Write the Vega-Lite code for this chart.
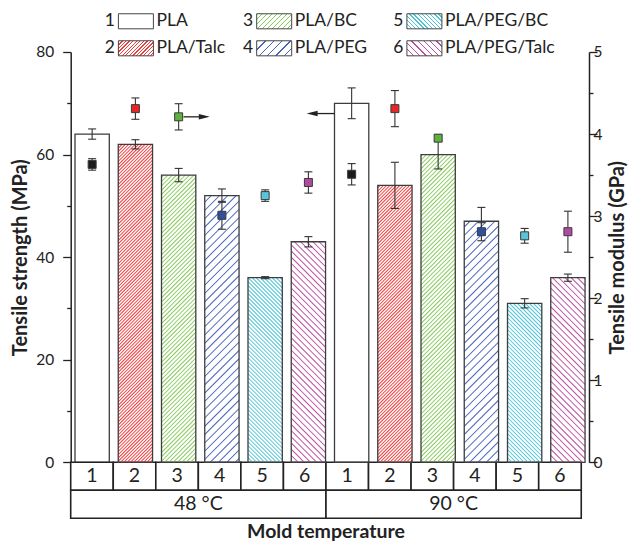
{
"$schema": "https://vega.github.io/schema/vega-lite/v6.json",
"padding": 0,
"bounds": "flush",
"spacing": 8.25,
"datasets": {
"bars": [
{"key":"48-1","mat":"PLA","s":64,"s_lo":63,"s_hi":65,"m":3.63,"m_lo":3.56,"m_hi":3.70},
{"key":"48-2","mat":"PLA/Talc","s":62,"s_lo":61.1,"s_hi":62.9,"m":4.31,"m_lo":4.18,"m_hi":4.44},
{"key":"48-3","mat":"PLA/BC","s":56,"s_lo":54.7,"s_hi":57.3,"m":4.21,"m_lo":4.05,"m_hi":4.37},
{"key":"48-4","mat":"PLA/PEG","s":52,"s_lo":50.7,"s_hi":53.3,"m":3.01,"m_lo":2.84,"m_hi":3.18},
{"key":"48-5","mat":"PLA/PEG/BC","s":36,"s_lo":35.8,"s_hi":36.2,"m":3.25,"m_lo":3.18,"m_hi":3.32},
{"key":"48-6","mat":"PLA/PEG/Talc","s":43,"s_lo":42,"s_hi":44,"m":3.41,"m_lo":3.28,"m_hi":3.54},
{"key":"90-1","mat":"PLA","s":70,"s_lo":67,"s_hi":73,"m":3.51,"m_lo":3.38,"m_hi":3.64},
{"key":"90-2","mat":"PLA/Talc","s":54,"s_lo":49.5,"s_hi":58.5,"m":4.31,"m_lo":4.09,"m_hi":4.53},
{"key":"90-3","mat":"PLA/BC","s":60,"s_lo":57.2,"s_hi":62.8,"m":3.95,"m_lo":3.91,"m_hi":3.99},
{"key":"90-4","mat":"PLA/PEG","s":47,"s_lo":44.3,"s_hi":49.7,"m":2.81,"m_lo":2.70,"m_hi":2.92},
{"key":"90-5","mat":"PLA/PEG/BC","s":31,"s_lo":30.1,"s_hi":31.9,"m":2.76,"m_lo":2.67,"m_hi":2.85},
{"key":"90-6","mat":"PLA/PEG/Talc","s":36,"s_lo":35.3,"s_hi":36.7,"m":2.81,"m_lo":2.56,"m_hi":3.06}
],
"legend": [
{"n":"1","mat":"PLA","col":0,"row":0},
{"n":"2","mat":"PLA/Talc","col":0,"row":1},
{"n":"3","mat":"PLA/BC","col":1,"row":0},
{"n":"4","mat":"PLA/PEG","col":1,"row":1},
{"n":"5","mat":"PLA/PEG/BC","col":2,"row":0},
{"n":"6","mat":"PLA/PEG/Talc","col":2,"row":1}
],
"table": [
{"row":"r1","start":0,"end":1,"label":"1"},
{"row":"r1","start":1,"end":2,"label":"2"},
{"row":"r1","start":2,"end":3,"label":"3"},
{"row":"r1","start":3,"end":4,"label":"4"},
{"row":"r1","start":4,"end":5,"label":"5"},
{"row":"r1","start":5,"end":6,"label":"6"},
{"row":"r1","start":6,"end":7,"label":"1"},
{"row":"r1","start":7,"end":8,"label":"2"},
{"row":"r1","start":8,"end":9,"label":"3"},
{"row":"r1","start":9,"end":10,"label":"4"},
{"row":"r1","start":10,"end":11,"label":"5"},
{"row":"r1","start":11,"end":12,"label":"6"},
{"row":"r2","start":0,"end":6,"label":"48 °C"},
{"row":"r2","start":6,"end":12,"label":"90 °C"}
]
},
"hconcat": [
{
"width": 34.3, "height": 410.3,
"data": {"name": "bars"},
"transform": [{"filter": "datum.key === '48-1'"}],
"layer": [
{"layer": [
{"mark":{"type":"point","size":1,"filled":true,"opacity":0},"encoding":{"x":{"datum":-2.1662,"type":"quantitative","scale":{"domain":[0,1]}},"y":{"datum":89.885,"type":"quantitative","scale":{"domain":[0,80]}}}},
{"mark":{"type":"rect","fill":"#ffffff","opacity":1},"encoding":{"x":{"datum":-0.05,"type":"quantitative"},"x2":{"datum":1.05},"y":{"field":"s","type":"quantitative"},"y2":{"datum":80}}},
{"mark":{"type":"rect","fill":"transparent","stroke":"#3d3d3d","strokeWidth":1.3,"opacity":1},"encoding":{"x":{"datum":0,"type":"quantitative"},"x2":{"datum":1},
 "y":{"field":"s","type":"quantitative","axis":{"title":"Tensile strength (MPa)","orient":"left","offset":4.3,"values":[0,10,20,30,40,50,60,70,80],"labelExpr":"datum.value % 20 === 0 ? datum.label : ''","tickSize":{"condition":{"test":"datum.value % 20 === 0","value":8},"value":4},"tickWidth":1.3,"tickColor":"#222","domainColor":"#222","domainWidth":1.5,"labelFontSize":15.5,"labelColor":"#222","labelPadding":9,"titleFontSize":20,"titleFontWeight":"bold","titleColor":"#222","titlePadding":5,"grid":false}},
 "y2":{"datum":0}}},
{"mark":{"type":"rule","color":"#333","strokeWidth":1.1},"encoding":{"x":{"datum":0.5,"type":"quantitative"},"y":{"field":"s_lo","type":"quantitative"},"y2":{"field":"s_hi"}}},
{"transform":[{"fold":["s_lo","s_hi"],"as":["f","v"]}],"mark":{"type":"tick","orient":"horizontal","size":8,"thickness":1.1,"color":"#333","opacity":1},"encoding":{"x":{"datum":0.5,"type":"quantitative"},"y":{"field":"v","type":"quantitative"}}}
]},
{"layer": [
{"mark":{"type":"rule","color":"#333","strokeWidth":1.1},"encoding":{"x":{"datum":0.5,"type":"quantitative","scale":{"domain":[0,1]}},"y":{"field":"m_lo","type":"quantitative","scale":{"domain":[0,5]},"axis":null},"y2":{"field":"m_hi"}}},
{"transform":[{"fold":["m_lo","m_hi"],"as":["f","v"]}],"mark":{"type":"tick","orient":"horizontal","size":8,"thickness":1.1,"color":"#333","opacity":1},"encoding":{"x":{"datum":0.5,"type":"quantitative"},"y":{"field":"v","type":"quantitative","axis":null}}},
{"mark":{"type":"point","shape":"square","size":64,"filled":true,"fill":"#1a1a1a","stroke":"#3a3a3a","strokeWidth":1,"opacity":1},"encoding":{"x":{"datum":0.5,"type":"quantitative"},"y":{"field":"m","type":"quantitative","axis":null}}}
]},
{
"data": {"name": "table"},
"encoding": {
"y": {"field": "row", "type": "nominal", "scale": {"domain": ["r1","r2","r3"], "range": [410.3,494.3], "paddingInner": 0, "paddingOuter": 0}, "axis": null}
},
"layer": [
{"mark": {"type": "rect", "fill": "#ffffff", "stroke": "#222", "strokeWidth": 1.6, "opacity": 1},
 "encoding": {"x": {"field": "start", "type": "quantitative", "scale": {"domain": [0,12], "range": [-4.3,506.25], "nice": false, "zero": false}}, "x2": {"field": "end"}}},
{"transform": [{"filter": "datum.row === 'r1'"}],
 "mark": {"type": "text", "fontSize": 19.5, "dx": 21.27, "color": "#222"},
 "encoding": {"x": {"field": "start", "type": "quantitative"}, "text": {"field": "label"}}},
{"transform": [{"filter": "datum.row === 'r2'"}],
 "mark": {"type": "text", "fontSize": 19.5, "dx": 127.65, "color": "#222"},
 "encoding": {"x": {"field": "start", "type": "quantitative"}, "text": {"field": "label"}}},
{"transform": [{"filter": "datum.row === 'r2' && datum.start === 0"}],
 "mark": {"type": "text", "text": "Mold temperature", "fontSize": 19.5, "fontWeight": "bold", "color": "#222"},
 "encoding": {"x": {"datum": 6, "type": "quantitative"}, "y": {"datum": "r3", "type": "nominal", "axis": null}}}
]
}
],
"resolve": {"scale": {"x": "independent", "y": "independent"}}
},
{
"width": 34.3, "height": 410.3,
"data": {"name": "bars"},
"transform": [{"filter": "datum.key === '48-2'"}],
"layer": [
{"layer": [
{"mark":{"type":"rule","clip":true,"strokeWidth":620,"stroke":"#f23a3a","strokeDash":[0.95,1.38],"opacity":1},"encoding":{"x":{"datum":0,"type":"quantitative","scale":{"domain":[0,1]}},"x2":{"datum":11.962},"y":{"datum":80,"type":"quantitative","scale":{"domain":[0,80]},"axis":null},"y2":{"datum":0}}},
{"mark":{"type":"rect","fill":"#ffffff","opacity":1},"encoding":{"x":{"datum":-0.05,"type":"quantitative"},"x2":{"datum":1.05},"y":{"field":"s","type":"quantitative","axis":null},"y2":{"datum":80}}},
{"mark":{"type":"rect","fill":"transparent","stroke":"#3d3d3d","strokeWidth":1.3,"opacity":1},"encoding":{"x":{"datum":0,"type":"quantitative"},"x2":{"datum":1},"y":{"field":"s","type":"quantitative","axis":null},"y2":{"datum":0}}},
{"mark":{"type":"rule","color":"#333","strokeWidth":1.1},"encoding":{"x":{"datum":0.5,"type":"quantitative"},"y":{"field":"s_lo","type":"quantitative","axis":null},"y2":{"field":"s_hi"}}},
{"transform":[{"fold":["s_lo","s_hi"],"as":["f","v"]}],"mark":{"type":"tick","orient":"horizontal","size":8,"thickness":1.1,"color":"#333","opacity":1},"encoding":{"x":{"datum":0.5,"type":"quantitative"},"y":{"field":"v","type":"quantitative","axis":null}}}
]},
{"layer": [
{"mark":{"type":"rule","color":"#333","strokeWidth":1.1},"encoding":{"x":{"datum":0.5,"type":"quantitative"},"y":{"field":"m_lo","type":"quantitative","scale":{"domain":[0,5]},"axis":null},"y2":{"field":"m_hi"}}},
{"transform":[{"fold":["m_lo","m_hi"],"as":["f","v"]}],"mark":{"type":"tick","orient":"horizontal","size":8,"thickness":1.1,"color":"#333","opacity":1},"encoding":{"x":{"datum":0.5,"type":"quantitative"},"y":{"field":"v","type":"quantitative","axis":null}}},
{"mark":{"type":"point","shape":"square","size":64,"filled":true,"fill":"#e8262a","stroke":"#3a3a3a","strokeWidth":1,"opacity":1},"encoding":{"x":{"datum":0.5,"type":"quantitative"},"y":{"field":"m","type":"quantitative","axis":null}}}
]}
],
"resolve": {"scale": {"y": "independent"}}
},
{
"width": 34.3, "height": 410.3,
"data": {"name": "bars"},
"transform": [{"filter": "datum.key === '48-3'"}],
"layer": [
{"layer": [
{"mark":{"type":"rule","clip":true,"strokeWidth":620,"stroke":"#86c95b","strokeDash":[0.95,2.09],"opacity":1},"encoding":{"x":{"datum":0,"type":"quantitative","scale":{"domain":[0,1]}},"x2":{"datum":11.962},"y":{"datum":80,"type":"quantitative","scale":{"domain":[0,80]},"axis":null},"y2":{"datum":0}}},
{"mark":{"type":"rect","fill":"#ffffff","opacity":1},"encoding":{"x":{"datum":-0.05,"type":"quantitative"},"x2":{"datum":1.05},"y":{"field":"s","type":"quantitative","axis":null},"y2":{"datum":80}}},
{"mark":{"type":"rect","fill":"transparent","stroke":"#3d3d3d","strokeWidth":1.3,"opacity":1},"encoding":{"x":{"datum":0,"type":"quantitative"},"x2":{"datum":1},"y":{"field":"s","type":"quantitative","axis":null},"y2":{"datum":0}}},
{"mark":{"type":"rule","color":"#333","strokeWidth":1.1},"encoding":{"x":{"datum":0.5,"type":"quantitative"},"y":{"field":"s_lo","type":"quantitative","axis":null},"y2":{"field":"s_hi"}}},
{"transform":[{"fold":["s_lo","s_hi"],"as":["f","v"]}],"mark":{"type":"tick","orient":"horizontal","size":8,"thickness":1.1,"color":"#333","opacity":1},"encoding":{"x":{"datum":0.5,"type":"quantitative"},"y":{"field":"v","type":"quantitative","axis":null}}}
]},
{"layer": [
{"mark":{"type":"rule","color":"#333","strokeWidth":1.1},"encoding":{"x":{"datum":0.5,"type":"quantitative"},"y":{"field":"m_lo","type":"quantitative","scale":{"domain":[0,5]},"axis":null},"y2":{"field":"m_hi"}}},
{"transform":[{"fold":["m_lo","m_hi"],"as":["f","v"]}],"mark":{"type":"tick","orient":"horizontal","size":8,"thickness":1.1,"color":"#333","opacity":1},"encoding":{"x":{"datum":0.5,"type":"quantitative"},"y":{"field":"v","type":"quantitative","axis":null}}},
{"mark":{"type":"point","shape":"square","size":64,"filled":true,"fill":"#5cb33b","stroke":"#3a3a3a","strokeWidth":1,"opacity":1},"encoding":{"x":{"datum":0.5,"type":"quantitative"},"y":{"field":"m","type":"quantitative","axis":null}}}
]}
],
"resolve": {"scale": {"y": "independent"}}
},
{
"width": 34.3, "height": 410.3,
"data": {"name": "bars"},
"transform": [{"filter": "datum.key === '48-4'"}],
"layer": [
{"layer": [
{"mark":{"type":"rule","clip":true,"strokeWidth":620,"stroke":"#4563b8","strokeDash":[0.95,4.92],"opacity":1},"encoding":{"x":{"datum":0,"type":"quantitative","scale":{"domain":[0,1]}},"x2":{"datum":11.962},"y":{"datum":80,"type":"quantitative","scale":{"domain":[0,80]},"axis":null},"y2":{"datum":0}}},
{"mark":{"type":"rect","fill":"#ffffff","opacity":1},"encoding":{"x":{"datum":-0.05,"type":"quantitative"},"x2":{"datum":1.05},"y":{"field":"s","type":"quantitative","axis":null},"y2":{"datum":80}}},
{"mark":{"type":"rect","fill":"transparent","stroke":"#3d3d3d","strokeWidth":1.3,"opacity":1},"encoding":{"x":{"datum":0,"type":"quantitative"},"x2":{"datum":1},"y":{"field":"s","type":"quantitative","axis":null},"y2":{"datum":0}}},
{"mark":{"type":"rule","color":"#333","strokeWidth":1.1},"encoding":{"x":{"datum":0.5,"type":"quantitative"},"y":{"field":"s_lo","type":"quantitative","axis":null},"y2":{"field":"s_hi"}}},
{"transform":[{"fold":["s_lo","s_hi"],"as":["f","v"]}],"mark":{"type":"tick","orient":"horizontal","size":8,"thickness":1.1,"color":"#333","opacity":1},"encoding":{"x":{"datum":0.5,"type":"quantitative"},"y":{"field":"v","type":"quantitative","axis":null}}}
]},
{"layer": [
{"mark":{"type":"rule","color":"#333","strokeWidth":1.1},"encoding":{"x":{"datum":0.5,"type":"quantitative"},"y":{"field":"m_lo","type":"quantitative","scale":{"domain":[0,5]},"axis":null},"y2":{"field":"m_hi"}}},
{"transform":[{"fold":["m_lo","m_hi"],"as":["f","v"]}],"mark":{"type":"tick","orient":"horizontal","size":8,"thickness":1.1,"color":"#333","opacity":1},"encoding":{"x":{"datum":0.5,"type":"quantitative"},"y":{"field":"v","type":"quantitative","axis":null}}},
{"mark":{"type":"point","shape":"square","size":64,"filled":true,"fill":"#2f4f9f","stroke":"#3a3a3a","strokeWidth":1,"opacity":1},"encoding":{"x":{"datum":0.5,"type":"quantitative"},"y":{"field":"m","type":"quantitative","axis":null}}},
{"mark":{"type":"rule","color":"#222","strokeWidth":1.3},"encoding":{"x":{"datum":-0.62,"type":"quantitative"},"x2":{"datum":-0.013},"y":{"datum":4.21,"type":"quantitative","axis":null}}},
{"mark":{"type":"point","shape":"M-1,-0.5L1,0L-1,0.5Z","size":121,"filled":true,"color":"#222","opacity":1},"encoding":{"x":{"datum":-0.013,"type":"quantitative"},"y":{"datum":4.21,"type":"quantitative","axis":null}}}
]}
],
"resolve": {"scale": {"y": "independent"}}
},
{
"width": 34.3, "height": 410.3,
"data": {"name": "bars"},
"transform": [{"filter": "datum.key === '48-5'"}],
"layer": [
{"layer": [
{"mark":{"type":"rule","clip":true,"strokeWidth":620,"stroke":"#4fc3d6","strokeDash":[0.95,1.88],"opacity":1},"encoding":{"x":{"datum":0,"type":"quantitative","scale":{"domain":[0,1]}},"x2":{"datum":11.962},"y":{"datum":0,"type":"quantitative","scale":{"domain":[0,80]},"axis":null},"y2":{"datum":80}}},
{"mark":{"type":"rect","fill":"#ffffff","opacity":1},"encoding":{"x":{"datum":-0.05,"type":"quantitative"},"x2":{"datum":1.05},"y":{"field":"s","type":"quantitative","axis":null},"y2":{"datum":80}}},
{"mark":{"type":"rect","fill":"transparent","stroke":"#3d3d3d","strokeWidth":1.3,"opacity":1},"encoding":{"x":{"datum":0,"type":"quantitative"},"x2":{"datum":1},"y":{"field":"s","type":"quantitative","axis":null},"y2":{"datum":0}}},
{"mark":{"type":"rule","color":"#333","strokeWidth":1.1},"encoding":{"x":{"datum":0.5,"type":"quantitative"},"y":{"field":"s_lo","type":"quantitative","axis":null},"y2":{"field":"s_hi"}}},
{"transform":[{"fold":["s_lo","s_hi"],"as":["f","v"]}],"mark":{"type":"tick","orient":"horizontal","size":8,"thickness":1.1,"color":"#333","opacity":1},"encoding":{"x":{"datum":0.5,"type":"quantitative"},"y":{"field":"v","type":"quantitative","axis":null}}}
]},
{"layer": [
{"mark":{"type":"rule","color":"#333","strokeWidth":1.1},"encoding":{"x":{"datum":0.5,"type":"quantitative"},"y":{"field":"m_lo","type":"quantitative","scale":{"domain":[0,5]},"axis":null},"y2":{"field":"m_hi"}}},
{"transform":[{"fold":["m_lo","m_hi"],"as":["f","v"]}],"mark":{"type":"tick","orient":"horizontal","size":8,"thickness":1.1,"color":"#333","opacity":1},"encoding":{"x":{"datum":0.5,"type":"quantitative"},"y":{"field":"v","type":"quantitative","axis":null}}},
{"mark":{"type":"point","shape":"square","size":64,"filled":true,"fill":"#58c6d9","stroke":"#3a3a3a","strokeWidth":1,"opacity":1},"encoding":{"x":{"datum":0.5,"type":"quantitative"},"y":{"field":"m","type":"quantitative","axis":null}}}
]}
],
"resolve": {"scale": {"y": "independent"}}
},
{
"width": 34.3, "height": 410.3,
"data": {"name": "bars"},
"transform": [{"filter": "datum.key === '48-6'"}],
"layer": [
{"layer": [
{"mark":{"type":"rule","clip":true,"strokeWidth":620,"stroke":"#bb4ea0","strokeDash":[0.95,3.43],"opacity":1},"encoding":{"x":{"datum":0,"type":"quantitative","scale":{"domain":[0,1]}},"x2":{"datum":11.962},"y":{"datum":0,"type":"quantitative","scale":{"domain":[0,80]},"axis":null},"y2":{"datum":80}}},
{"mark":{"type":"rect","fill":"#ffffff","opacity":1},"encoding":{"x":{"datum":-0.05,"type":"quantitative"},"x2":{"datum":1.05},"y":{"field":"s","type":"quantitative","axis":null},"y2":{"datum":80}}},
{"mark":{"type":"rect","fill":"transparent","stroke":"#3d3d3d","strokeWidth":1.3,"opacity":1},"encoding":{"x":{"datum":0,"type":"quantitative"},"x2":{"datum":1},"y":{"field":"s","type":"quantitative","axis":null},"y2":{"datum":0}}},
{"mark":{"type":"rule","color":"#333","strokeWidth":1.1},"encoding":{"x":{"datum":0.5,"type":"quantitative"},"y":{"field":"s_lo","type":"quantitative","axis":null},"y2":{"field":"s_hi"}}},
{"transform":[{"fold":["s_lo","s_hi"],"as":["f","v"]}],"mark":{"type":"tick","orient":"horizontal","size":8,"thickness":1.1,"color":"#333","opacity":1},"encoding":{"x":{"datum":0.5,"type":"quantitative"},"y":{"field":"v","type":"quantitative","axis":null}}}
]},
{"layer": [
{"mark":{"type":"rule","color":"#333","strokeWidth":1.1},"encoding":{"x":{"datum":0.5,"type":"quantitative"},"y":{"field":"m_lo","type":"quantitative","scale":{"domain":[0,5]},"axis":null},"y2":{"field":"m_hi"}}},
{"transform":[{"fold":["m_lo","m_hi"],"as":["f","v"]}],"mark":{"type":"tick","orient":"horizontal","size":8,"thickness":1.1,"color":"#333","opacity":1},"encoding":{"x":{"datum":0.5,"type":"quantitative"},"y":{"field":"v","type":"quantitative","axis":null}}},
{"mark":{"type":"point","shape":"square","size":64,"filled":true,"fill":"#b04c9f","stroke":"#3a3a3a","strokeWidth":1,"opacity":1},"encoding":{"x":{"datum":0.5,"type":"quantitative"},"y":{"field":"m","type":"quantitative","axis":null}}}
]}
],
"resolve": {"scale": {"y": "independent"}}
},
{
"width": 34.3, "height": 410.3,
"data": {"name": "bars"},
"transform": [{"filter": "datum.key === '90-1'"}],
"layer": [
{"layer": [
{"mark":{"type":"rect","fill":"#ffffff","opacity":1},"encoding":{"x":{"datum":-0.05,"type":"quantitative","scale":{"domain":[0,1]}},"x2":{"datum":1.05},"y":{"field":"s","type":"quantitative","scale":{"domain":[0,80]},"axis":null},"y2":{"datum":80}}},
{"mark":{"type":"rect","fill":"transparent","stroke":"#3d3d3d","strokeWidth":1.3,"opacity":1},"encoding":{"x":{"datum":0,"type":"quantitative"},"x2":{"datum":1},"y":{"field":"s","type":"quantitative","axis":null},"y2":{"datum":0}}},
{"mark":{"type":"rule","color":"#333","strokeWidth":1.1},"encoding":{"x":{"datum":0.5,"type":"quantitative"},"y":{"field":"s_lo","type":"quantitative","axis":null},"y2":{"field":"s_hi"}}},
{"transform":[{"fold":["s_lo","s_hi"],"as":["f","v"]}],"mark":{"type":"tick","orient":"horizontal","size":8,"thickness":1.1,"color":"#333","opacity":1},"encoding":{"x":{"datum":0.5,"type":"quantitative"},"y":{"field":"v","type":"quantitative","axis":null}}},
{"mark":{"type":"rule","color":"#222","strokeWidth":1.3},"encoding":{"x":{"datum":0,"type":"quantitative"},"x2":{"datum":-0.653},"y":{"datum":68,"type":"quantitative","axis":null}}},
{"mark":{"type":"point","shape":"M1,-0.5L-1,0L1,0.5Z","size":121,"filled":true,"color":"#222","opacity":1},"encoding":{"x":{"datum":-0.653,"type":"quantitative"},"y":{"datum":68,"type":"quantitative","axis":null}}}
]},
{"layer": [
{"mark":{"type":"rule","color":"#333","strokeWidth":1.1},"encoding":{"x":{"datum":0.5,"type":"quantitative"},"y":{"field":"m_lo","type":"quantitative","scale":{"domain":[0,5]},"axis":null},"y2":{"field":"m_hi"}}},
{"transform":[{"fold":["m_lo","m_hi"],"as":["f","v"]}],"mark":{"type":"tick","orient":"horizontal","size":8,"thickness":1.1,"color":"#333","opacity":1},"encoding":{"x":{"datum":0.5,"type":"quantitative"},"y":{"field":"v","type":"quantitative","axis":null}}},
{"mark":{"type":"point","shape":"square","size":64,"filled":true,"fill":"#1a1a1a","stroke":"#3a3a3a","strokeWidth":1,"opacity":1},"encoding":{"x":{"datum":0.5,"type":"quantitative"},"y":{"field":"m","type":"quantitative","axis":null}}}
]}
],
"resolve": {"scale": {"y": "independent"}}
},
{
"width": 34.3, "height": 410.3,
"data": {"name": "bars"},
"transform": [{"filter": "datum.key === '90-2'"}],
"layer": [
{"layer": [
{"mark":{"type":"rule","clip":true,"strokeWidth":620,"stroke":"#f23a3a","strokeDash":[0.95,1.38],"opacity":1},"encoding":{"x":{"datum":0,"type":"quantitative","scale":{"domain":[0,1]}},"x2":{"datum":11.962},"y":{"datum":80,"type":"quantitative","scale":{"domain":[0,80]},"axis":null},"y2":{"datum":0}}},
{"mark":{"type":"rect","fill":"#ffffff","opacity":1},"encoding":{"x":{"datum":-0.05,"type":"quantitative"},"x2":{"datum":1.05},"y":{"field":"s","type":"quantitative","axis":null},"y2":{"datum":80}}},
{"mark":{"type":"rect","fill":"transparent","stroke":"#3d3d3d","strokeWidth":1.3,"opacity":1},"encoding":{"x":{"datum":0,"type":"quantitative"},"x2":{"datum":1},"y":{"field":"s","type":"quantitative","axis":null},"y2":{"datum":0}}},
{"mark":{"type":"rule","color":"#333","strokeWidth":1.1},"encoding":{"x":{"datum":0.5,"type":"quantitative"},"y":{"field":"s_lo","type":"quantitative","axis":null},"y2":{"field":"s_hi"}}},
{"transform":[{"fold":["s_lo","s_hi"],"as":["f","v"]}],"mark":{"type":"tick","orient":"horizontal","size":8,"thickness":1.1,"color":"#333","opacity":1},"encoding":{"x":{"datum":0.5,"type":"quantitative"},"y":{"field":"v","type":"quantitative","axis":null}}}
]},
{"layer": [
{"mark":{"type":"rule","color":"#333","strokeWidth":1.1},"encoding":{"x":{"datum":0.5,"type":"quantitative"},"y":{"field":"m_lo","type":"quantitative","scale":{"domain":[0,5]},"axis":null},"y2":{"field":"m_hi"}}},
{"transform":[{"fold":["m_lo","m_hi"],"as":["f","v"]}],"mark":{"type":"tick","orient":"horizontal","size":8,"thickness":1.1,"color":"#333","opacity":1},"encoding":{"x":{"datum":0.5,"type":"quantitative"},"y":{"field":"v","type":"quantitative","axis":null}}},
{"mark":{"type":"point","shape":"square","size":64,"filled":true,"fill":"#e8262a","stroke":"#3a3a3a","strokeWidth":1,"opacity":1},"encoding":{"x":{"datum":0.5,"type":"quantitative"},"y":{"field":"m","type":"quantitative","axis":null}}}
]}
],
"resolve": {"scale": {"y": "independent"}}
},
{
"width": 34.3, "height": 410.3,
"data": {"name": "bars"},
"transform": [{"filter": "datum.key === '90-3'"}],
"layer": [
{"layer": [
{"mark":{"type":"rule","clip":true,"strokeWidth":620,"stroke":"#86c95b","strokeDash":[0.95,2.09],"opacity":1},"encoding":{"x":{"datum":0,"type":"quantitative","scale":{"domain":[0,1]}},"x2":{"datum":11.962},"y":{"datum":80,"type":"quantitative","scale":{"domain":[0,80]},"axis":null},"y2":{"datum":0}}},
{"mark":{"type":"rect","fill":"#ffffff","opacity":1},"encoding":{"x":{"datum":-0.05,"type":"quantitative"},"x2":{"datum":1.05},"y":{"field":"s","type":"quantitative","axis":null},"y2":{"datum":80}}},
{"mark":{"type":"rect","fill":"transparent","stroke":"#3d3d3d","strokeWidth":1.3,"opacity":1},"encoding":{"x":{"datum":0,"type":"quantitative"},"x2":{"datum":1},"y":{"field":"s","type":"quantitative","axis":null},"y2":{"datum":0}}},
{"mark":{"type":"rule","color":"#333","strokeWidth":1.1},"encoding":{"x":{"datum":0.5,"type":"quantitative"},"y":{"field":"s_lo","type":"quantitative","axis":null},"y2":{"field":"s_hi"}}},
{"transform":[{"fold":["s_lo","s_hi"],"as":["f","v"]}],"mark":{"type":"tick","orient":"horizontal","size":8,"thickness":1.1,"color":"#333","opacity":1},"encoding":{"x":{"datum":0.5,"type":"quantitative"},"y":{"field":"v","type":"quantitative","axis":null}}}
]},
{"layer": [
{"mark":{"type":"rule","color":"#333","strokeWidth":1.1},"encoding":{"x":{"datum":0.5,"type":"quantitative"},"y":{"field":"m_lo","type":"quantitative","scale":{"domain":[0,5]},"axis":null},"y2":{"field":"m_hi"}}},
{"transform":[{"fold":["m_lo","m_hi"],"as":["f","v"]}],"mark":{"type":"tick","orient":"horizontal","size":8,"thickness":1.1,"color":"#333","opacity":1},"encoding":{"x":{"datum":0.5,"type":"quantitative"},"y":{"field":"v","type":"quantitative","axis":null}}},
{"mark":{"type":"point","shape":"square","size":64,"filled":true,"fill":"#5cb33b","stroke":"#3a3a3a","strokeWidth":1,"opacity":1},"encoding":{"x":{"datum":0.5,"type":"quantitative"},"y":{"field":"m","type":"quantitative","axis":null}}}
]}
],
"resolve": {"scale": {"y": "independent"}}
},
{
"width": 34.3, "height": 410.3,
"data": {"name": "bars"},
"transform": [{"filter": "datum.key === '90-4'"}],
"layer": [
{"layer": [
{"mark":{"type":"rule","clip":true,"strokeWidth":620,"stroke":"#4563b8","strokeDash":[0.95,4.92],"opacity":1},"encoding":{"x":{"datum":0,"type":"quantitative","scale":{"domain":[0,1]}},"x2":{"datum":11.962},"y":{"datum":80,"type":"quantitative","scale":{"domain":[0,80]},"axis":null},"y2":{"datum":0}}},
{"mark":{"type":"rect","fill":"#ffffff","opacity":1},"encoding":{"x":{"datum":-0.05,"type":"quantitative"},"x2":{"datum":1.05},"y":{"field":"s","type":"quantitative","axis":null},"y2":{"datum":80}}},
{"mark":{"type":"rect","fill":"transparent","stroke":"#3d3d3d","strokeWidth":1.3,"opacity":1},"encoding":{"x":{"datum":0,"type":"quantitative"},"x2":{"datum":1},"y":{"field":"s","type":"quantitative","axis":null},"y2":{"datum":0}}},
{"mark":{"type":"rule","color":"#333","strokeWidth":1.1},"encoding":{"x":{"datum":0.5,"type":"quantitative"},"y":{"field":"s_lo","type":"quantitative","axis":null},"y2":{"field":"s_hi"}}},
{"transform":[{"fold":["s_lo","s_hi"],"as":["f","v"]}],"mark":{"type":"tick","orient":"horizontal","size":8,"thickness":1.1,"color":"#333","opacity":1},"encoding":{"x":{"datum":0.5,"type":"quantitative"},"y":{"field":"v","type":"quantitative","axis":null}}}
]},
{"layer": [
{"mark":{"type":"rule","color":"#333","strokeWidth":1.1},"encoding":{"x":{"datum":0.5,"type":"quantitative"},"y":{"field":"m_lo","type":"quantitative","scale":{"domain":[0,5]},"axis":null},"y2":{"field":"m_hi"}}},
{"transform":[{"fold":["m_lo","m_hi"],"as":["f","v"]}],"mark":{"type":"tick","orient":"horizontal","size":8,"thickness":1.1,"color":"#333","opacity":1},"encoding":{"x":{"datum":0.5,"type":"quantitative"},"y":{"field":"v","type":"quantitative","axis":null}}},
{"mark":{"type":"point","shape":"square","size":64,"filled":true,"fill":"#2f4f9f","stroke":"#3a3a3a","strokeWidth":1,"opacity":1},"encoding":{"x":{"datum":0.5,"type":"quantitative"},"y":{"field":"m","type":"quantitative","axis":null}}}
]}
],
"resolve": {"scale": {"y": "independent"}}
},
{
"width": 34.3, "height": 410.3,
"data": {"name": "bars"},
"transform": [{"filter": "datum.key === '90-5'"}],
"layer": [
{"layer": [
{"mark":{"type":"rule","clip":true,"strokeWidth":620,"stroke":"#4fc3d6","strokeDash":[0.95,1.88],"opacity":1},"encoding":{"x":{"datum":0,"type":"quantitative","scale":{"domain":[0,1]}},"x2":{"datum":11.962},"y":{"datum":0,"type":"quantitative","scale":{"domain":[0,80]},"axis":null},"y2":{"datum":80}}},
{"mark":{"type":"rect","fill":"#ffffff","opacity":1},"encoding":{"x":{"datum":-0.05,"type":"quantitative"},"x2":{"datum":1.05},"y":{"field":"s","type":"quantitative","axis":null},"y2":{"datum":80}}},
{"mark":{"type":"rect","fill":"transparent","stroke":"#3d3d3d","strokeWidth":1.3,"opacity":1},"encoding":{"x":{"datum":0,"type":"quantitative"},"x2":{"datum":1},"y":{"field":"s","type":"quantitative","axis":null},"y2":{"datum":0}}},
{"mark":{"type":"rule","color":"#333","strokeWidth":1.1},"encoding":{"x":{"datum":0.5,"type":"quantitative"},"y":{"field":"s_lo","type":"quantitative","axis":null},"y2":{"field":"s_hi"}}},
{"transform":[{"fold":["s_lo","s_hi"],"as":["f","v"]}],"mark":{"type":"tick","orient":"horizontal","size":8,"thickness":1.1,"color":"#333","opacity":1},"encoding":{"x":{"datum":0.5,"type":"quantitative"},"y":{"field":"v","type":"quantitative","axis":null}}}
]},
{"layer": [
{"mark":{"type":"rule","color":"#333","strokeWidth":1.1},"encoding":{"x":{"datum":0.5,"type":"quantitative"},"y":{"field":"m_lo","type":"quantitative","scale":{"domain":[0,5]},"axis":null},"y2":{"field":"m_hi"}}},
{"transform":[{"fold":["m_lo","m_hi"],"as":["f","v"]}],"mark":{"type":"tick","orient":"horizontal","size":8,"thickness":1.1,"color":"#333","opacity":1},"encoding":{"x":{"datum":0.5,"type":"quantitative"},"y":{"field":"v","type":"quantitative","axis":null}}},
{"mark":{"type":"point","shape":"square","size":64,"filled":true,"fill":"#58c6d9","stroke":"#3a3a3a","strokeWidth":1,"opacity":1},"encoding":{"x":{"datum":0.5,"type":"quantitative"},"y":{"field":"m","type":"quantitative","axis":null}}}
]}
],
"resolve": {"scale": {"y": "independent"}}
},
{
"width": 34.3, "height": 410.3,
"data": {"name": "bars"},
"transform": [{"filter": "datum.key === '90-6'"}],
"layer": [
{"layer": [
{"mark":{"type":"rule","clip":true,"strokeWidth":620,"stroke":"#bb4ea0","strokeDash":[0.95,3.43],"opacity":1},"encoding":{"x":{"datum":0,"type":"quantitative","scale":{"domain":[0,1]}},"x2":{"datum":11.962},"y":{"datum":0,"type":"quantitative","scale":{"domain":[0,80]},"axis":null},"y2":{"datum":80}}},
{"mark":{"type":"rect","fill":"#ffffff","opacity":1},"encoding":{"x":{"datum":-0.05,"type":"quantitative"},"x2":{"datum":1.05},"y":{"field":"s","type":"quantitative","axis":null},"y2":{"datum":80}}},
{"mark":{"type":"rect","fill":"transparent","stroke":"#3d3d3d","strokeWidth":1.3,"opacity":1},"encoding":{"x":{"datum":0,"type":"quantitative"},"x2":{"datum":1},"y":{"field":"s","type":"quantitative","axis":null},"y2":{"datum":0}}},
{"mark":{"type":"rule","color":"#333","strokeWidth":1.1},"encoding":{"x":{"datum":0.5,"type":"quantitative"},"y":{"field":"s_lo","type":"quantitative","axis":null},"y2":{"field":"s_hi"}}},
{"transform":[{"fold":["s_lo","s_hi"],"as":["f","v"]}],"mark":{"type":"tick","orient":"horizontal","size":8,"thickness":1.1,"color":"#333","opacity":1},"encoding":{"x":{"datum":0.5,"type":"quantitative"},"y":{"field":"v","type":"quantitative","axis":null}}}
]},
{"layer": [
{"mark":{"type":"rule","color":"#333","strokeWidth":1.1},"encoding":{"x":{"datum":0.5,"type":"quantitative","scale":{"domain":[0,1]}},"y":{"field":"m_lo","type":"quantitative","scale":{"domain":[0,5]}},"y2":{"field":"m_hi"}}},
{"transform":[{"fold":["m_lo","m_hi"],"as":["f","v"]}],"mark":{"type":"tick","orient":"horizontal","size":8,"thickness":1.1,"color":"#333","opacity":1},"encoding":{"x":{"datum":0.5,"type":"quantitative"},"y":{"field":"v","type":"quantitative"}}},
{"mark":{"type":"point","shape":"square","size":64,"filled":true,"fill":"#b04c9f","stroke":"#3a3a3a","strokeWidth":1,"opacity":1},"encoding":{"x":{"datum":0.5,"type":"quantitative"},
 "y":{"field":"m","type":"quantitative","axis":{"title":"Tensile modulus (GPa)","orient":"right","offset":3.95,"values":[0,0.5,1,1.5,2,2.5,3,3.5,4,4.5,5],"labelExpr":"datum.value % 1 === 0 ? '' + datum.value : ''","tickSize":{"condition":{"test":"datum.value % 1 === 0","value":8},"value":4},"tickWidth":1.3,"tickColor":"#222","domainColor":"#222","domainWidth":1.5,"labelFontSize":15.5,"labelColor":"#222","labelPadding":-4,"titleFontSize":20,"titleFontWeight":"bold","titleColor":"#222","titleAngle":270,"titleBaseline":"top","titlePadding":6,"grid":false}}}}
]},
{
"data": {"name": "legend"},
"encoding": {
"x": {"field": "col", "type": "quantitative", "scale": {"domain": [0,1,2], "range": [-414.85,-276.55,-126.35], "nice": false, "zero": false}},
"y": {"field": "row", "type": "quantitative", "scale": {"domain": [0,1], "range": [-30.7,-3.7], "nice": false, "zero": false}, "axis": null}
},
"layer": [
{"mark": {"type": "text", "fontSize": 17.5, "dx": -26, "color": "#222"}, "encoding": {"text": {"field": "n"}}},
{"mark": {"type": "text", "fontSize": 17.5, "dx": 20.5, "align": "left", "color": "#222"}, "encoding": {"text": {"field": "mat"}}},
{"transform": [{"filter": "datum.mat === 'PLA'"}],
 "mark": {"type": "point", "shape": "M-1,-0.43H1V0.43H-1Z", "size": 1225, "filled": true, "fill": "#ffffff", "stroke": "#444", "strokeWidth": 1, "opacity": 1}},
{"transform": [{"filter": "datum.mat === 'PLA/Talc'"}],
 "mark": {"type": "point", "shape": "M-1,-0.43H1V0.43H-1Z", "size": 1225, "filled": true, "stroke": "#444", "strokeWidth": 1, "opacity": 1,
 "fill": {"gradient": "linear", "x1": 0, "y1": 0, "x2": 1.2069, "y2": 0.5172, "stops": [
{"offset":0,"color":"#f23a3a"},{"offset":0.026,"color":"#f23a3a"},{"offset":0.026,"color":"#fff"},{"offset":0.0714,"color":"#fff"},
{"offset":0.0714,"color":"#f23a3a"},{"offset":0.0974,"color":"#f23a3a"},{"offset":0.0974,"color":"#fff"},{"offset":0.1429,"color":"#fff"},
{"offset":0.1429,"color":"#f23a3a"},{"offset":0.1689,"color":"#f23a3a"},{"offset":0.1689,"color":"#fff"},{"offset":0.2143,"color":"#fff"},
{"offset":0.2143,"color":"#f23a3a"},{"offset":0.2403,"color":"#f23a3a"},{"offset":0.2403,"color":"#fff"},{"offset":0.2857,"color":"#fff"},
{"offset":0.2857,"color":"#f23a3a"},{"offset":0.3117,"color":"#f23a3a"},{"offset":0.3117,"color":"#fff"},{"offset":0.3571,"color":"#fff"},
{"offset":0.3571,"color":"#f23a3a"},{"offset":0.3831,"color":"#f23a3a"},{"offset":0.3831,"color":"#fff"},{"offset":0.4286,"color":"#fff"},
{"offset":0.4286,"color":"#f23a3a"},{"offset":0.4546,"color":"#f23a3a"},{"offset":0.4546,"color":"#fff"},{"offset":0.5,"color":"#fff"},
{"offset":0.5,"color":"#f23a3a"},{"offset":0.526,"color":"#f23a3a"},{"offset":0.526,"color":"#fff"},{"offset":0.5714,"color":"#fff"},
{"offset":0.5714,"color":"#f23a3a"},{"offset":0.5974,"color":"#f23a3a"},{"offset":0.5974,"color":"#fff"},{"offset":0.6429,"color":"#fff"},
{"offset":0.6429,"color":"#f23a3a"},{"offset":0.6689,"color":"#f23a3a"},{"offset":0.6689,"color":"#fff"},{"offset":0.7143,"color":"#fff"},
{"offset":0.7143,"color":"#f23a3a"},{"offset":0.7403,"color":"#f23a3a"},{"offset":0.7403,"color":"#fff"},{"offset":0.7857,"color":"#fff"},
{"offset":0.7857,"color":"#f23a3a"},{"offset":0.8117,"color":"#f23a3a"},{"offset":0.8117,"color":"#fff"},{"offset":0.8571,"color":"#fff"},
{"offset":0.8571,"color":"#f23a3a"},{"offset":0.8831,"color":"#f23a3a"},{"offset":0.8831,"color":"#fff"},{"offset":0.9286,"color":"#fff"},
{"offset":0.9286,"color":"#f23a3a"},{"offset":0.9546,"color":"#f23a3a"},{"offset":0.9546,"color":"#fff"},{"offset":1,"color":"#fff"}
 ]}}},
{"transform": [{"filter": "datum.mat === 'PLA/BC'"}],
 "mark": {"type": "point", "shape": "M-1,-0.43H1V0.43H-1Z", "size": 1225, "filled": true, "stroke": "#444", "strokeWidth": 1, "opacity": 1,
 "fill": {"gradient": "linear", "x1": 0, "y1": 0, "x2": 1.2069, "y2": 0.5172, "stops": [
{"offset":0,"color":"#86c95b"},{"offset":0.026,"color":"#86c95b"},{"offset":0.026,"color":"#fff"},{"offset":0.1,"color":"#fff"},
{"offset":0.1,"color":"#86c95b"},{"offset":0.126,"color":"#86c95b"},{"offset":0.126,"color":"#fff"},{"offset":0.2,"color":"#fff"},
{"offset":0.2,"color":"#86c95b"},{"offset":0.226,"color":"#86c95b"},{"offset":0.226,"color":"#fff"},{"offset":0.3,"color":"#fff"},
{"offset":0.3,"color":"#86c95b"},{"offset":0.326,"color":"#86c95b"},{"offset":0.326,"color":"#fff"},{"offset":0.4,"color":"#fff"},
{"offset":0.4,"color":"#86c95b"},{"offset":0.426,"color":"#86c95b"},{"offset":0.426,"color":"#fff"},{"offset":0.5,"color":"#fff"},
{"offset":0.5,"color":"#86c95b"},{"offset":0.526,"color":"#86c95b"},{"offset":0.526,"color":"#fff"},{"offset":0.6,"color":"#fff"},
{"offset":0.6,"color":"#86c95b"},{"offset":0.626,"color":"#86c95b"},{"offset":0.626,"color":"#fff"},{"offset":0.7,"color":"#fff"},
{"offset":0.7,"color":"#86c95b"},{"offset":0.726,"color":"#86c95b"},{"offset":0.726,"color":"#fff"},{"offset":0.8,"color":"#fff"},
{"offset":0.8,"color":"#86c95b"},{"offset":0.826,"color":"#86c95b"},{"offset":0.826,"color":"#fff"},{"offset":0.9,"color":"#fff"},
{"offset":0.9,"color":"#86c95b"},{"offset":0.926,"color":"#86c95b"},{"offset":0.926,"color":"#fff"},{"offset":1,"color":"#fff"}
 ]}}},
{"transform": [{"filter": "datum.mat === 'PLA/PEG'"}],
 "mark": {"type": "point", "shape": "M-1,-0.43H1V0.43H-1Z", "size": 1225, "filled": true, "stroke": "#444", "strokeWidth": 1, "opacity": 1,
 "fill": {"gradient": "linear", "x1": 0, "y1": 0, "x2": 1.2069, "y2": 0.5172, "stops": [
{"offset":0,"color":"#4563b8"},{"offset":0.026,"color":"#4563b8"},{"offset":0.026,"color":"#fff"},{"offset":0.1667,"color":"#fff"},
{"offset":0.1667,"color":"#4563b8"},{"offset":0.1927,"color":"#4563b8"},{"offset":0.1927,"color":"#fff"},{"offset":0.3333,"color":"#fff"},
{"offset":0.3333,"color":"#4563b8"},{"offset":0.3593,"color":"#4563b8"},{"offset":0.3593,"color":"#fff"},{"offset":0.5,"color":"#fff"},
{"offset":0.5,"color":"#4563b8"},{"offset":0.526,"color":"#4563b8"},{"offset":0.526,"color":"#fff"},{"offset":0.6667,"color":"#fff"},
{"offset":0.6667,"color":"#4563b8"},{"offset":0.6927,"color":"#4563b8"},{"offset":0.6927,"color":"#fff"},{"offset":0.8333,"color":"#fff"},
{"offset":0.8333,"color":"#4563b8"},{"offset":0.8593,"color":"#4563b8"},{"offset":0.8593,"color":"#fff"},{"offset":1,"color":"#fff"}
 ]}}},
{"transform": [{"filter": "datum.mat === 'PLA/PEG/BC'"}],
 "mark": {"type": "point", "shape": "M-1,-0.43H1V0.43H-1Z", "size": 1225, "filled": true, "stroke": "#444", "strokeWidth": 1, "opacity": 1,
 "fill": {"gradient": "linear", "x1": 0, "y1": 1, "x2": 1.2069, "y2": 0.4828, "stops": [
{"offset":0,"color":"#4fc3d6"},{"offset":0.026,"color":"#4fc3d6"},{"offset":0.026,"color":"#fff"},{"offset":0.0833,"color":"#fff"},
{"offset":0.0833,"color":"#4fc3d6"},{"offset":0.1093,"color":"#4fc3d6"},{"offset":0.1093,"color":"#fff"},{"offset":0.1667,"color":"#fff"},
{"offset":0.1667,"color":"#4fc3d6"},{"offset":0.1927,"color":"#4fc3d6"},{"offset":0.1927,"color":"#fff"},{"offset":0.25,"color":"#fff"},
{"offset":0.25,"color":"#4fc3d6"},{"offset":0.276,"color":"#4fc3d6"},{"offset":0.276,"color":"#fff"},{"offset":0.3333,"color":"#fff"},
{"offset":0.3333,"color":"#4fc3d6"},{"offset":0.3593,"color":"#4fc3d6"},{"offset":0.3593,"color":"#fff"},{"offset":0.4167,"color":"#fff"},
{"offset":0.4167,"color":"#4fc3d6"},{"offset":0.4427,"color":"#4fc3d6"},{"offset":0.4427,"color":"#fff"},{"offset":0.5,"color":"#fff"},
{"offset":0.5,"color":"#4fc3d6"},{"offset":0.526,"color":"#4fc3d6"},{"offset":0.526,"color":"#fff"},{"offset":0.5833,"color":"#fff"},
{"offset":0.5833,"color":"#4fc3d6"},{"offset":0.6093,"color":"#4fc3d6"},{"offset":0.6093,"color":"#fff"},{"offset":0.6667,"color":"#fff"},
{"offset":0.6667,"color":"#4fc3d6"},{"offset":0.6927,"color":"#4fc3d6"},{"offset":0.6927,"color":"#fff"},{"offset":0.75,"color":"#fff"},
{"offset":0.75,"color":"#4fc3d6"},{"offset":0.776,"color":"#4fc3d6"},{"offset":0.776,"color":"#fff"},{"offset":0.8333,"color":"#fff"},
{"offset":0.8333,"color":"#4fc3d6"},{"offset":0.8593,"color":"#4fc3d6"},{"offset":0.8593,"color":"#fff"},{"offset":0.9167,"color":"#fff"},
{"offset":0.9167,"color":"#4fc3d6"},{"offset":0.9427,"color":"#4fc3d6"},{"offset":0.9427,"color":"#fff"},{"offset":1,"color":"#fff"}
 ]}}},
{"transform": [{"filter": "datum.mat === 'PLA/PEG/Talc'"}],
 "mark": {"type": "point", "shape": "M-1,-0.43H1V0.43H-1Z", "size": 1225, "filled": true, "stroke": "#444", "strokeWidth": 1, "opacity": 1,
 "fill": {"gradient": "linear", "x1": 0, "y1": 1, "x2": 1.2069, "y2": 0.4828, "stops": [
{"offset":0,"color":"#bb4ea0"},{"offset":0.026,"color":"#bb4ea0"},{"offset":0.026,"color":"#fff"},{"offset":0.125,"color":"#fff"},
{"offset":0.125,"color":"#bb4ea0"},{"offset":0.151,"color":"#bb4ea0"},{"offset":0.151,"color":"#fff"},{"offset":0.25,"color":"#fff"},
{"offset":0.25,"color":"#bb4ea0"},{"offset":0.276,"color":"#bb4ea0"},{"offset":0.276,"color":"#fff"},{"offset":0.375,"color":"#fff"},
{"offset":0.375,"color":"#bb4ea0"},{"offset":0.401,"color":"#bb4ea0"},{"offset":0.401,"color":"#fff"},{"offset":0.5,"color":"#fff"},
{"offset":0.5,"color":"#bb4ea0"},{"offset":0.526,"color":"#bb4ea0"},{"offset":0.526,"color":"#fff"},{"offset":0.625,"color":"#fff"},
{"offset":0.625,"color":"#bb4ea0"},{"offset":0.651,"color":"#bb4ea0"},{"offset":0.651,"color":"#fff"},{"offset":0.75,"color":"#fff"},
{"offset":0.75,"color":"#bb4ea0"},{"offset":0.776,"color":"#bb4ea0"},{"offset":0.776,"color":"#fff"},{"offset":0.875,"color":"#fff"},
{"offset":0.875,"color":"#bb4ea0"},{"offset":0.901,"color":"#bb4ea0"},{"offset":0.901,"color":"#fff"},{"offset":1,"color":"#fff"}
 ]}}}
]
}
],
"resolve": {"scale": {"x": "independent", "y": "independent"}}
}
],
"config": {"view": {"stroke": null}, "font": "Lato", "axisX": {"disable": true}, "axis": {"grid": false}}
}
